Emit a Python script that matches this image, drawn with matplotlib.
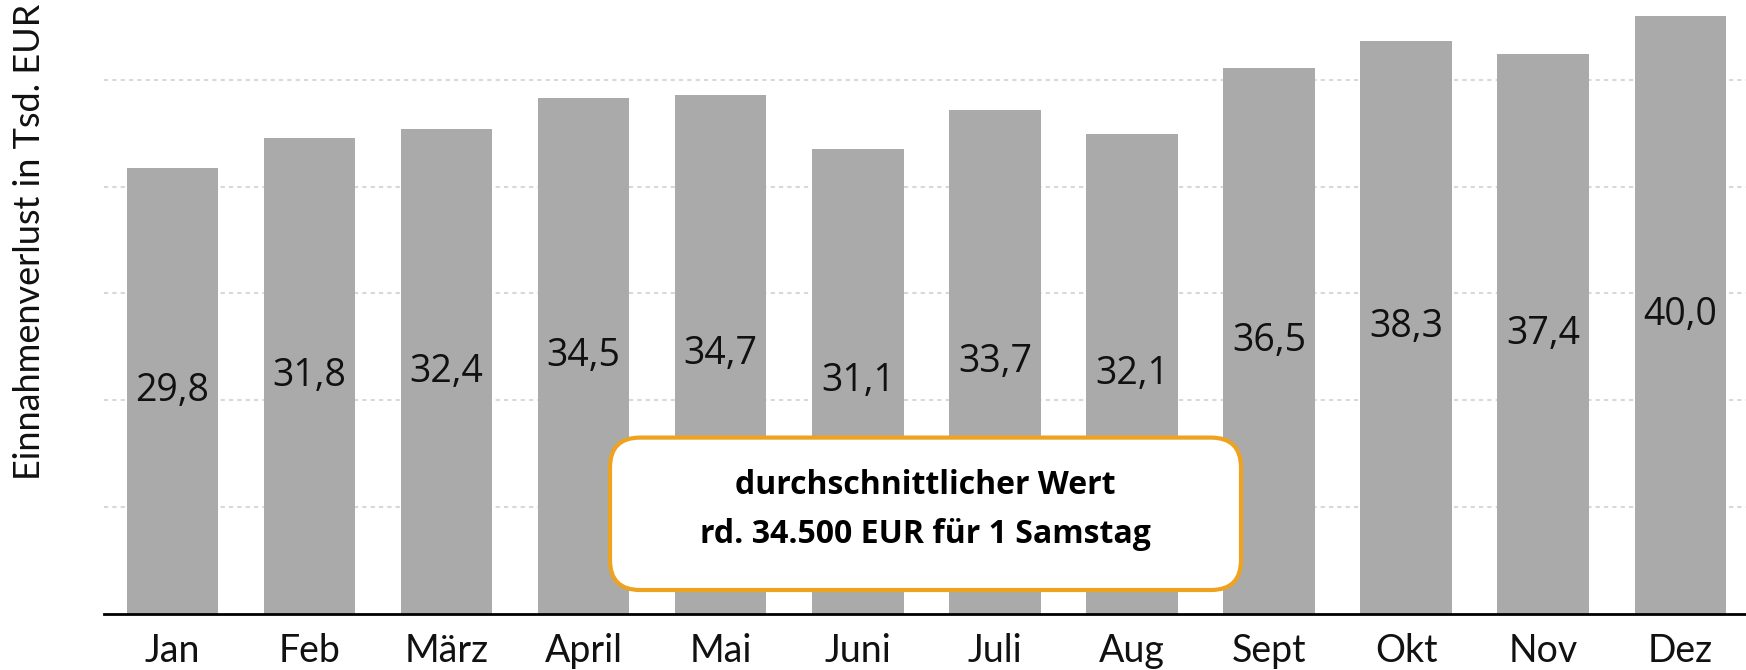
import matplotlib.pyplot as plt
import numpy as np
from matplotlib.patches import FancyBboxPatch

# Data
months = ["Jan", "Feb", "März", "April", "Mai", "Juni", "Juli", "Aug", "Sept", "Okt", "Nov", "Dez"]
values = [29.8, 31.8, 32.4, 34.5, 34.7, 31.1, 33.7, 32.1, 36.5, 38.3, 37.4, 40.0]
grid_step = 50 / 7
note_lines = ["durchschnittlicher Wert", "rd. 34.500 EUR für 1 Samstag"]

BAR_COLOR = "#aaaaaa"
ORANGE = "#efa21f"
FONT = "Open Sans"
TICK_FONT = "Lato"

fig = plt.figure(figsize=(17.46, 6.70), dpi=100)
ax = fig.add_axes([104 / 1746, 56 / 670, 1 - 104 / 1746, 1 - 56 / 670])

x = np.arange(len(months))
ax.bar(x, values, width=0.667, color=BAR_COLOR, zorder=2)

for xi, v in zip(x, values):
    ax.text(xi, v / 2, f"{v:.1f}".replace(".", ","), ha="center", va="center",
            fontsize=27, family=FONT, color="#111111", zorder=3)

ax.set_xlim(-0.5, 11.48)
ax.set_ylim(0, 41.04)

ax.set_yticks(np.arange(1, 6) * grid_step)
ax.yaxis.grid(True, color="#d8d8d8", linestyle=(0, (2, 2)), linewidth=1.5, zorder=0)
ax.set_axisbelow(True)
ax.tick_params(axis="y", left=False, labelleft=False)

ax.set_xticks(x)
ax.set_xticklabels(months, family=TICK_FONT, fontsize=27, color="#111111")
ax.tick_params(axis="x", length=0, pad=14)

for s in ["top", "right", "left"]:
    ax.spines[s].set_visible(False)
ax.spines["bottom"].set_linewidth(2)
ax.spines["bottom"].set_color("black")
ax.spines["bottom"].set_zorder(4)

fig.text(30 / 1746, 1 - 242 / 670, "Einnahmenverlust in Tsd. EUR", rotation=90,
         ha="center", va="center", fontsize=26, family=TICK_FONT, color="#111111")

# note box (inches)
box = FancyBboxPatch((6.10, 0.80), 6.31, 1.524,
                     boxstyle="round,pad=0,rounding_size=0.3",
                     transform=fig.dpi_scale_trans, facecolor="white",
                     edgecolor=ORANGE, linewidth=3, zorder=5)
fig.patches.append(box)
fig.text(9.255, 1.84, note_lines[0], transform=fig.dpi_scale_trans, ha="center", va="center",
         fontsize=23, fontweight="bold", family=FONT, zorder=6)
fig.text(9.255, 1.355, note_lines[1], transform=fig.dpi_scale_trans, ha="center", va="center",
         fontsize=23, fontweight="bold", family=FONT, zorder=6)

fig.savefig("out.png", dpi=100)
